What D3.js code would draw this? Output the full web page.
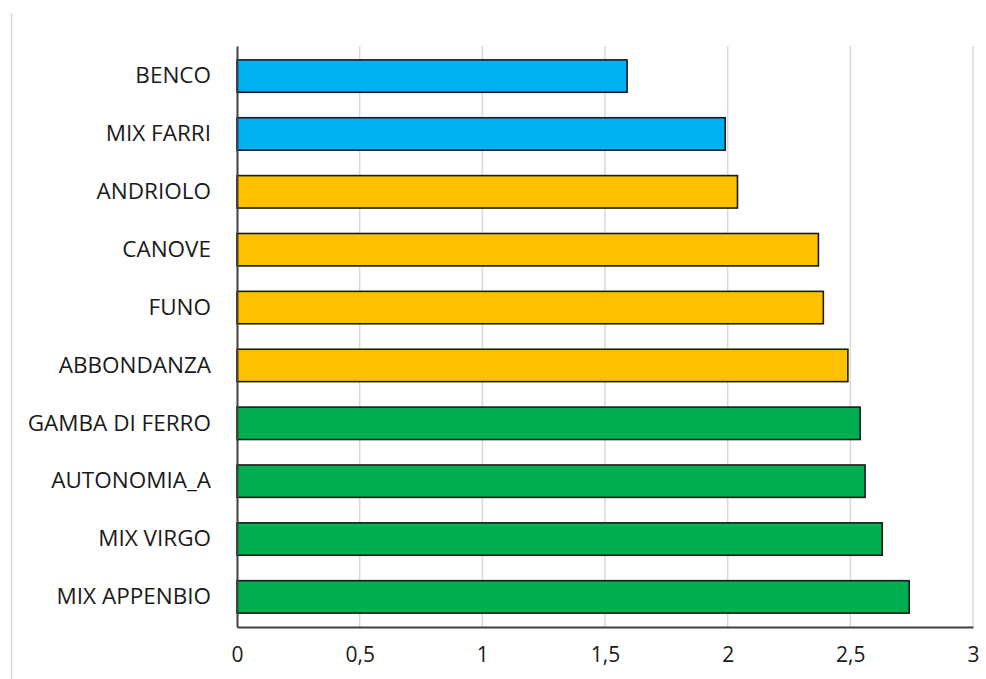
<!DOCTYPE html>
<html><head><meta charset="utf-8">
<script src="https://cdn.jsdelivr.net/npm/d3@7"></script>
<style>body{margin:0;background:#fff;} text{font-family:"Open Sans",sans-serif;}</style>
</head><body>
<svg id="c" width="986" height="679"></svg>
<script>
const categories = ["BENCO","MIX FARRI","ANDRIOLO","CANOVE","FUNO","ABBONDANZA","GAMBA DI FERRO","AUTONOMIA_A","MIX VIRGO","MIX APPENBIO"];
const values = [1.59, 1.99, 2.04, 2.37, 2.39, 2.49, 2.54, 2.56, 2.63, 2.74];
const groups = ["blue","blue","yellow","yellow","yellow","yellow","green","green","green","green"];
const groupColors = {blue:"#00B0F0", yellow:"#FFC000", green:"#00B050"};
const tickValues = [0,0.5,1,1.5,2,2.5,3];
const tickLabels = ["0","0,5","1","1,5","2","2,5","3"];

const svg = d3.select("#c");
const pLeft = 237, pRight = 973, pTop = 46, pBottom = 627;
const x = d3.scaleLinear().domain([0,3]).range([pLeft,pRight]);
const y = d3.scaleBand().domain(categories).range([pTop,pBottom]).paddingInner(0.44).paddingOuter(0.24);

// outer frame line on left
svg.append("line").attr("x1",11.5).attr("x2",11.5).attr("y1",13).attr("y2",679).attr("stroke","#d9d9d9").attr("stroke-width",1.5);

// gridlines
svg.append("g").selectAll("line").data(tickValues.slice(1)).join("line")
  .attr("x1",d=>x(d)).attr("x2",d=>x(d)).attr("y1",pTop).attr("y2",pBottom)
  .attr("stroke","#d9d9d9").attr("stroke-width",1.5);

// bars
svg.append("g").selectAll("rect").data(categories).join("rect")
  .attr("x",x(0)).attr("y",d=>y(d))
  .attr("width",(d,i)=>x(values[i])-x(0)).attr("height",y.bandwidth())
  .attr("fill",(d,i)=>groupColors[groups[i]]).attr("stroke","#1a1a1a").attr("stroke-width",1.6);

// axes
const xAxis = d3.axisBottom(x).tickValues(tickValues).tickFormat((d,i)=>tickLabels[i]).tickSize(0).tickPadding(20);
const gx = svg.append("g").attr("transform",`translate(0,${pBottom})`).call(xAxis);
gx.select(".domain").attr("stroke","#404040").attr("stroke-width",2);
gx.selectAll("text").attr("font-size",21).attr("fill","#1a1a1a").style("font-family","'Open Sans',sans-serif");

const yAxis = d3.axisLeft(y).tickSize(0).tickPadding(26);
const gy = svg.append("g").attr("transform",`translate(${pLeft},0)`).call(yAxis);
gy.select(".domain").attr("stroke","#404040").attr("stroke-width",2);
gy.selectAll("text").attr("font-size",22.5).attr("fill","#1a1a1a").style("font-family","'Open Sans',sans-serif");
</script>
</body></html>
